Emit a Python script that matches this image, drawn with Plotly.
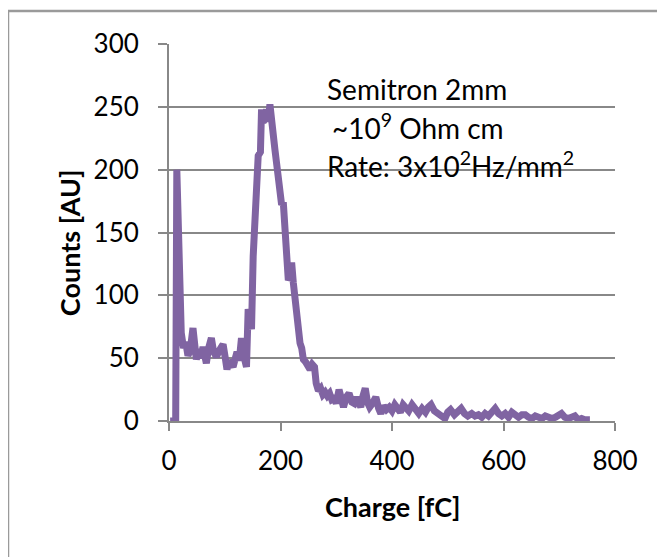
import plotly.graph_objects as go

# charge spectrum
charge = [2, 12, 14, 18, 22, 26, 30, 34, 38, 43, 46, 49, 53, 57, 61, 64, 67, 71, 76, 80,
          85, 90, 94, 97, 101, 104, 108, 112, 115, 119, 122, 126, 130, 134, 139, 142, 145, 148, 151, 154,
          157, 160, 164, 166, 169, 172, 175, 178, 181, 184, 187, 190, 193, 196, 199, 202, 205, 208, 211, 214,
          217, 220, 223, 226, 229, 232, 235, 238, 241, 245, 249, 253, 257, 261, 264, 268, 272, 276, 280, 284,
          288, 292, 296, 300, 305, 309, 313, 318, 323, 328, 332, 336, 340, 344, 348, 352, 356, 360, 365, 371,
          376, 380, 385, 390, 395, 400, 405, 410, 415, 420, 425, 430, 436, 442, 448, 454, 460, 465, 470, 476,
          484, 490, 495, 500, 505, 512, 518, 524, 530, 536, 543, 549, 555, 561, 567, 573, 579, 585, 591, 597,
          603, 609, 615, 621, 627, 633, 639, 645, 651, 657, 663, 669, 675, 681, 687, 693, 699, 704, 710, 716,
          722, 728, 734, 740, 746, 752, 755]
counts = [0, 0, 200, 125, 70, 58, 63, 52, 56, 74, 55, 49, 57, 50, 59, 50, 46, 58, 66, 55,
          51, 56, 58, 61, 50, 41, 48, 45, 43, 50, 55, 48, 66, 52, 43, 89, 80, 73, 131, 171,
          195, 211, 214, 248, 238, 240, 248, 238, 252, 235, 222, 216, 205, 195, 176, 172, 174, 150, 128, 112,
          115, 126, 110, 94, 85, 70, 62, 58, 49, 47, 44, 41, 45, 43, 30, 24, 26, 21, 23, 20,
          22, 17, 18, 14, 25, 16, 11, 19, 22, 15, 14, 19, 13, 11, 20, 26, 15, 11, 14, 19,
          10, 6, 12, 9, 11, 8, 13, 9, 7, 13, 11, 8, 13, 9, 6, 10, 7, 11, 13, 8,
          6, 4, 2, 7, 9, 5, 8, 10, 6, 4, 6, 4, 5, 3, 6, 4, 7, 10, 6, 4,
          6, 3, 7, 5, 3, 5, 5, 3, 2, 4, 3, 2, 4, 3, 2, 3, 5, 6, 3, 2,
          3, 4, 1, 2, 1, 1, 1]

x_ticks = [0, 200, 400, 600, 800]
y_ticks = [0, 50, 100, 150, 200, 250, 300]

note_lines = ["Semitron 2mm", "~10<sup>9</sup> Ohm cm", "Rate: 3x10<sup>2</sup>Hz/mm<sup>2</sup>"]
note_y = [264, 234, 204]
note_x = [280, 288, 280]

grey = "#888888"
font = "Lato, 'Open Sans', sans-serif"

fig = go.Figure()
fig.add_trace(go.Scatter(x=charge, y=counts, mode="lines",
                         line=dict(color="#8064A2", width=7), showlegend=False))

for txt, xx, yy in zip(note_lines, note_x, note_y):
    fig.add_annotation(x=xx, y=yy, text=txt, showarrow=False, xanchor="left", yanchor="middle",
                       font=dict(size=28, color="black", family=font))

# axis titles
fig.add_annotation(x=0.502, y=-0.228, xref="paper", yref="paper", text="<b>Charge [fC]</b>",
                   xanchor="center", yanchor="middle", showarrow=False,
                   font=dict(size=27, color="black", family=font))
fig.add_annotation(x=-0.224, y=0.472, xref="paper", yref="paper", text="<b>Counts [AU]</b>",
                   xanchor="center", yanchor="middle", textangle=-90, showarrow=False,
                   font=dict(size=27, color="black", family=font))

# outer frame of the slide chart
fig.add_shape(type="rect", xref="paper", yref="paper", x0=-0.361, x1=1.5, y0=-1.0, y1=1.0875,
              line=dict(color="#9a9a9a", width=2.5), layer="below")

fig.update_xaxes(range=[0, 800], tickvals=x_ticks, showgrid=False, showline=True, linecolor=grey,
                 linewidth=2, ticks="outside", ticklen=8, tickwidth=2, tickcolor=grey,
                 tickfont=dict(size=26, color="black", family=font), zeroline=False,
                 ticklabelstandoff=8)
fig.update_yaxes(range=[0, 300], tickvals=y_ticks, showgrid=True, gridcolor=grey, gridwidth=2,
                 showline=True, linecolor=grey, linewidth=2, ticks="outside", ticklen=9,
                 tickwidth=2, tickcolor=grey, tickfont=dict(size=26, color="black", family=font),
                 zeroline=False, ticklabelstandoff=14)
# page has an 8px body margin, so margins are shifted by 8px
fig.update_layout(width=665, height=557, margin=dict(l=161, r=58, t=36, b=144),
                  plot_bgcolor="white", paper_bgcolor="white")

fig.write_html("out.html")
